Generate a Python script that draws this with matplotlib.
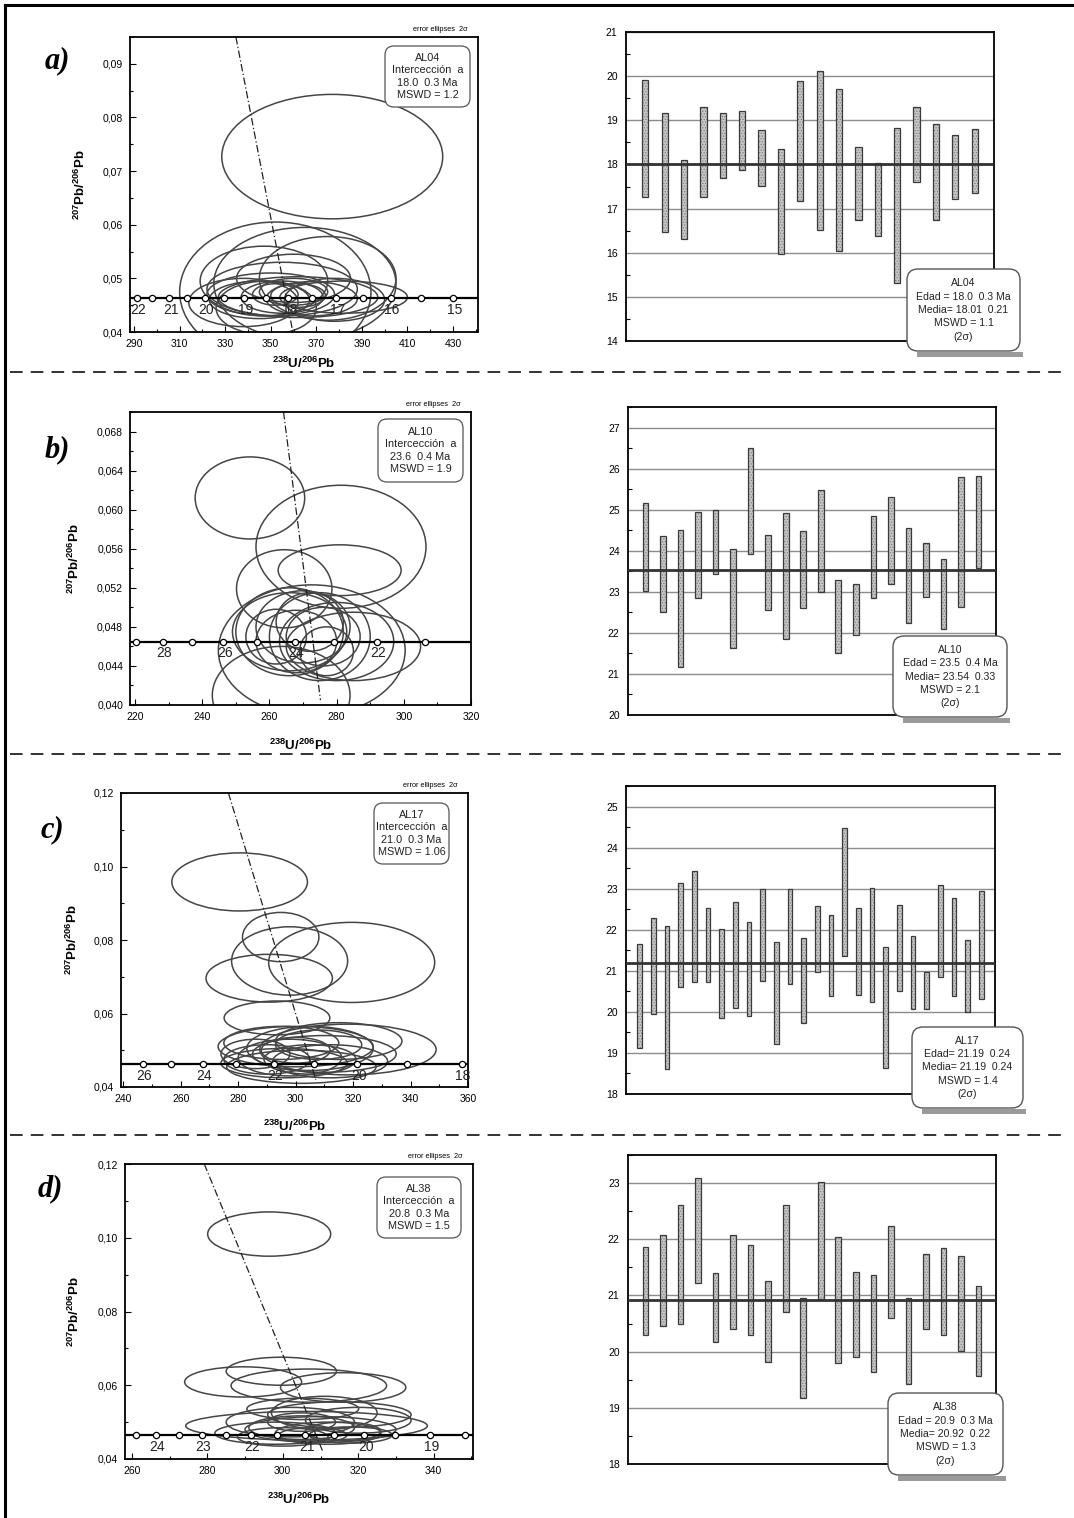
import matplotlib
matplotlib.use('Agg')
import matplotlib.pyplot as plt
from matplotlib.patches import Ellipse, FancyBboxPatch, Rectangle
from matplotlib.ticker import MultipleLocator, FuncFormatter

plt.rcParams['font.family'] = ['Liberation Sans', 'DejaVu Sans']
plt.rcParams['mathtext.fontset'] = 'custom'
plt.rcParams['mathtext.rm'] = 'Liberation Sans'
plt.rcParams['mathtext.bf'] = 'Liberation Sans:bold'
plt.rcParams['hatch.linewidth'] = 0.6

W, H = 1074, 1518

# ---------------- Tera-Wasserburg data (cx, cy, half-width, half-height) ----------------
ell_a = [(377, 0.0727, 48.5, 0.0116), (352, 0.0475, 42, 0.0130), (365, 0.0490, 40, 0.0105),
         (375, 0.0500, 30, 0.0078), (347, 0.0495, 28, 0.0065), (360, 0.0500, 25, 0.0045),
         (355, 0.0480, 33, 0.0050), (350, 0.0470, 28, 0.0040), (362, 0.0465, 35, 0.0038),
         (355, 0.0465, 18, 0.0030), (360, 0.0475, 15, 0.0025), (345, 0.0460, 22, 0.0035),
         (368, 0.0462, 20, 0.0032), (352, 0.0470, 10, 0.0020), (362, 0.0468, 12, 0.0022),
         (338, 0.0455, 24, 0.0045), (378, 0.0460, 22, 0.0040), (382, 0.0465, 28, 0.0030),
         (348, 0.0445, 22, 0.0050)]
ell_b = [(254.2, 0.0612, 16.3, 0.0042), (281.3, 0.0562, 25.3, 0.0063), (280.9, 0.0538, 18.3, 0.0026),
         (264.4, 0.0519, 14.2, 0.0040), (272.6, 0.0456, 27.8, 0.0067), (263.5, 0.0410, 20.5, 0.0050),
         (266, 0.0475, 17, 0.0040), (270, 0.0480, 14, 0.0037), (275, 0.0470, 15, 0.0045),
         (268, 0.0465, 12, 0.0032), (276, 0.0470, 11, 0.0030), (280, 0.0465, 17, 0.0040),
         (272, 0.0485, 10, 0.0030), (266, 0.0475, 16, 0.0045), (285, 0.0460, 20, 0.0035),
         (277, 0.0455, 8, 0.0025), (262, 0.0470, 9, 0.0028)]
ell_c = [(280.5, 0.0958, 23.6, 0.0079), (294.8, 0.0808, 13.3, 0.0067), (297.9, 0.0743, 20.2, 0.0093),
         (319.5, 0.0739, 28.9, 0.0109), (290.8, 0.0696, 22.0, 0.0065), (293.5, 0.0588, 18.4, 0.0046),
         (318.2, 0.0502, 30.7, 0.0069), (300, 0.0510, 27, 0.0055), (295, 0.0520, 20, 0.0045),
         (305, 0.0505, 22, 0.0060), (310, 0.0490, 25, 0.0050), (298, 0.0480, 18, 0.0050),
         (290, 0.0475, 15, 0.0040), (305, 0.0475, 16, 0.0040), (312, 0.0470, 20, 0.0045),
         (300, 0.0500, 12, 0.0035), (296, 0.0465, 22, 0.0040), (308, 0.0515, 15, 0.0040),
         (286, 0.0490, 12, 0.0040), (315, 0.0525, 22, 0.0050), (302, 0.0455, 26, 0.0045)]
ell_d = [(296.4, 0.1010, 16.3, 0.0060), (299.6, 0.0638, 14.6, 0.0038), (289.5, 0.0609, 15.5, 0.0041),
         (306.9, 0.0599, 20.6, 0.0045), (316.0, 0.0594, 16.6, 0.0040), (306.3, 0.0490, 32.0, 0.0039),
         (305.3, 0.0536, 14.8, 0.0029), (311, 0.0525, 14, 0.0045), (315, 0.0520, 19, 0.0035),
         (302, 0.0500, 17, 0.0040), (320, 0.0505, 14, 0.0035), (305, 0.0485, 14, 0.0032),
         (312, 0.0470, 14, 0.0030), (298, 0.0470, 16, 0.0030), (308, 0.0465, 9, 0.0020),
         (310, 0.0480, 20, 0.0035), (300, 0.0460, 12, 0.0025), (316, 0.0475, 10, 0.0025),
         (305, 0.0500, 9, 0.0025), (318, 0.0465, 11, 0.0022)]

# concordia ticks (x position, age in Ma) and the labelled ages
conc_a_x = [291.3, 297.9, 305.4, 313.2, 321.1, 329.5, 338.2, 347.9, 357.5, 368.1, 378.6, 390.4, 402.7, 415.9, 430.0]
conc_a_age = [22, 21.5, 21, 20.5, 20, 19.5, 19, 18.5, 18, 17.5, 17, 16.5, 16, 15.5, 15]
conc_a_lab = [22, 21, 20, 19, 18, 17, 16, 15]
conc_b_x = [220.2, 228.2, 237.1, 246.3, 256.4, 267.5, 279.2, 292.0, 306.3]
conc_b_age = [29, 28, 27, 26, 25, 24, 23, 22, 21]
conc_b_lab = [28, 26, 24, 22]
conc_c_x = [246.7, 256.6, 267.6, 279.3, 292.3, 306.3, 321.5, 338.7, 357.8]
conc_c_age = [26, 25, 24, 23, 22, 21, 20, 19, 18]
conc_c_lab = [26, 24, 22, 20, 18]
conc_d_x = [261.1, 266.4, 272.4, 278.6, 284.9, 291.6, 298.6, 306.0, 313.5, 321.6, 329.8, 339.0, 348.2]
conc_d_age = [24.5, 24, 23.5, 23, 22.5, 22, 21.5, 21, 20.5, 20, 19.5, 19, 18.5]
conc_d_lab = [24, 23, 22, 21, 20, 19]
conc_y = [0.0463, 0.0465, 0.0463, 0.0465]

# discordia (x, y) end points
disc_a = ([334.7, 359.7], [0.095, 0.040])
disc_b = ([264.2, 275.2], [0.070, 0.0405])
disc_c = ([276.6, 307.0], [0.120, 0.042])
disc_d = ([279.2, 310.7], [0.120, 0.0418])

# ---------------- weighted-mean age bars (top, bottom in Ma) ----------------
top_a = [19.91, 19.17, 18.11, 19.31, 19.16, 19.22, 18.77, 18.34, 19.88, 20.11, 19.70, 18.39, 18.04, 18.83, 19.29, 18.91, 18.66, 18.81]
bot_a = [17.27, 16.47, 16.31, 17.27, 17.70, 17.88, 17.52, 15.96, 17.18, 16.52, 16.03, 16.74, 16.38, 15.31, 17.61, 16.75, 17.21, 17.36]
top_b = [25.17, 24.36, 24.50, 24.94, 25.00, 24.04, 26.50, 24.39, 24.91, 24.48, 25.48, 23.28, 23.20, 24.85, 25.30, 24.56, 24.18, 23.81, 25.80, 25.82]
bot_b = [23.01, 22.50, 21.16, 22.85, 23.43, 21.64, 23.92, 22.56, 21.85, 22.60, 22.99, 21.51, 21.96, 22.84, 23.18, 22.23, 22.87, 22.09, 22.64, 23.59]
top_c = [21.65, 22.28, 22.09, 23.15, 23.44, 22.53, 22.03, 22.68, 22.20, 23.00, 21.69, 23.00, 21.80, 22.59, 22.36, 24.47, 22.52, 23.02, 21.59, 22.61, 21.84, 20.98, 23.09, 22.77, 21.76, 22.95]
bot_c = [19.11, 19.96, 18.62, 20.60, 20.73, 20.72, 19.85, 20.09, 19.90, 20.75, 19.22, 20.68, 19.73, 20.98, 20.38, 21.36, 20.40, 20.25, 18.63, 20.51, 20.08, 20.08, 20.85, 20.39, 20.00, 20.32]
top_d = [21.86, 22.07, 22.61, 23.09, 21.40, 22.08, 21.90, 21.26, 22.61, 20.96, 23.02, 22.04, 21.41, 21.36, 22.24, 20.96, 21.74, 21.85, 21.71, 21.17]
bot_d = [20.30, 20.46, 20.50, 21.22, 20.17, 20.41, 20.30, 19.82, 20.71, 19.18, 20.93, 19.79, 19.90, 19.64, 20.59, 19.43, 20.41, 20.30, 20.01, 19.57]
mean_age = [18.0, 23.54, 21.19, 20.92]

text_left = ["AL04\nIntercección  a\n18.0  0.3 Ma\nMSWD = 1.2",
             "AL10\nIntercección  a\n23.6  0.4 Ma\nMSWD = 1.9",
             "AL17\nIntercección  a\n21.0  0.3 Ma\nMSWD = 1.06",
             "AL38\nIntercección  a\n20.8  0.3 Ma\nMSWD = 1.5"]
text_right = ["AL04\nEdad = 18.0  0.3 Ma\nMedia= 18.01  0.21\nMSWD = 1.1\n(2σ)",
              "AL10\nEdad = 23.5  0.4 Ma\nMedia= 23.54  0.33\nMSWD = 2.1\n(2σ)",
              "AL17\nEdad= 21.19  0.24\nMedia= 21.19  0.24\nMSWD = 1.4\n(2σ)",
              "AL38\nEdad = 20.9  0.3 Ma\nMedia= 20.92  0.22\nMSWD = 1.3\n(2σ)"]
letters = ['a)', 'b)', 'c)', 'd)']

# ---------------- layout (pixels) ----------------
left_rect = [(130, 37, 478, 332), (130, 412, 471, 705), (121, 793, 468, 1087), (125, 1164, 473, 1459)]
right_rect = [(626, 32, 994, 341), (628, 407, 996, 715), (626, 786, 995, 1094), (628, 1155, 996, 1464)]
left_xlim = [(288.2, 441), (218.5, 320), (239.2, 360), (258.2, 350.4)]
left_ylim = [(0.04, 0.095), (0.040, 0.070), (0.04, 0.12), (0.04, 0.12)]
left_xt = [range(290, 431, 20), range(220, 321, 20), range(240, 361, 20), range(260, 341, 20)]
left_ymaj = [0.01, 0.004, 0.02, 0.02]
left_ydec = [2, 3, 2, 2]
right_ylim = [(14, 21), (20, 27.5), (18, 25.5), (18, 23.5)]
ylab_x = [-0.12, -0.14, -0.118, -0.124]
xlab_y = [-0.081, -0.113, -0.109, -0.112]
box_left = [(385, 46, 470, 107), (378, 419, 463, 482), (374, 803, 449, 864), (377, 1177, 461, 1238)]
box_right = [(907, 269, 1020, 351), (893, 636, 1007, 717), (912, 1027, 1023, 1108), (888, 1393, 1003, 1475)]
letter_pos = [(57, 61), (57, 450), (52, 830), (50, 1189)]
sep_y = [372, 754, 1135]

ells = [ell_a, ell_b, ell_c, ell_d]
concs = [(conc_a_x, conc_a_age, conc_a_lab), (conc_b_x, conc_b_age, conc_b_lab),
         (conc_c_x, conc_c_age, conc_c_lab), (conc_d_x, conc_d_age, conc_d_lab)]
discs = [disc_a, disc_b, disc_c, disc_d]
tops = [top_a, top_b, top_c, top_d]
bots = [bot_a, bot_b, bot_c, bot_d]

fig = plt.figure(figsize=(W / 100, H / 100), dpi=100)


def px_axes(r):
    l, t, rr, b = r
    return fig.add_axes([l / W, 1 - b / H, (rr - l) / W, (b - t) / H])


for i in range(4):
    # ---- left: Tera-Wasserburg diagram ----
    ax = px_axes(left_rect[i])
    x0, x1 = left_xlim[i]
    for cx, cy, hw, hh in ells[i]:
        ax.add_patch(Ellipse((cx, cy), 2 * hw, 2 * hh, fill=False, ec='#454545', lw=1.1))
    ax.plot(discs[i][0], discs[i][1], color='#222222', lw=0.9, dashes=(6, 2, 1, 2))
    cxs, cages, clab = concs[i]
    ax.plot([x0, x1], [conc_y[i]] * 2, color='black', lw=1.6)
    ax.plot(cxs, [conc_y[i]] * len(cxs), 'o', mfc='white', mec='black', ms=4.5, mew=0.9)
    for x, age in zip(cxs, cages):
        if age in clab:
            ax.annotate(str(int(age)), (x, conc_y[i]), xytext=(1, -8.5), textcoords='offset points',
                        ha='center', va='center', fontsize=10, color='#222222')
    ax.set_xticks(list(left_xt[i]))
    ax.set_xticks([v + 10 for v in left_xt[i] if v + 10 < x1], minor=True)
    ax.set_xlim(x0, x1)
    ax.set_ylim(left_ylim[i])
    ax.yaxis.set_major_locator(MultipleLocator(left_ymaj[i]))
    ax.yaxis.set_minor_locator(MultipleLocator(left_ymaj[i] / 2))
    dec = left_ydec[i]
    ax.yaxis.set_major_formatter(FuncFormatter(lambda v, p, d=dec: f'{v:.{d}f}'.replace('.', ',')))
    ax.tick_params(which='both', direction='in', labelsize=7.5, width=0.8, pad=5, top=False, right=False)
    ax.tick_params(which='major', length=4)
    ax.tick_params(which='minor', length=2.5)
    for s in ax.spines.values():
        s.set_linewidth(1.3)
    ax.set_ylabel(r'$^{\mathbf{207}}\mathbf{Pb/}^{\mathbf{206}}\mathbf{Pb}$', fontsize=9.5)
    ax.set_xlabel(r'$^{\mathbf{238}}\mathbf{U/}^{\mathbf{206}}\mathbf{Pb}$', fontsize=9.5)
    ax.yaxis.set_label_coords(ylab_x[i], 0.5)
    ax.xaxis.set_label_coords(0.5, xlab_y[i])
    ax.text(0.97, 1.012, 'error ellipses  2σ', transform=ax.transAxes, ha='right', va='bottom', fontsize=5.3)

    # ---- right: age bars ----
    axr = px_axes(right_rect[i])
    n = len(tops[i])
    xs = list(range(1, n + 1))
    hts = [t - b for t, b in zip(tops[i], bots[i])]
    axr.bar(xs, hts, bottom=bots[i], width=0.32, color='#c6c6c6', hatch='......', edgecolor='#808080',
            linewidth=0, zorder=3)
    axr.bar(xs, hts, bottom=bots[i], width=0.32, fill=False, edgecolor='#3a3a3a', linewidth=0.9, zorder=4)
    axr.axhline(mean_age[i], xmin=0, xmax=0.995, color='#333333', lw=2, zorder=5)
    axr.set_xlim(0, n + 1)
    lo, hi = right_ylim[i]
    axr.set_yticks(range(int(lo), int(hi) + 1))
    axr.set_ylim(lo, hi)
    axr.yaxis.set_minor_locator(MultipleLocator(0.5))
    axr.set_xticks([])
    axr.yaxis.grid(True, color='#8c8c8c', lw=1.0)
    axr.set_axisbelow(True)
    axr.tick_params(which='both', direction='in', labelsize=7.5, width=0.8, pad=6)
    axr.tick_params(which='major', length=0)
    axr.tick_params(which='minor', length=3)
    for s in axr.spines.values():
        s.set_linewidth(1.3)

# ---------------- overlay: frame, separators, boxes, letters ----------------
ov = fig.add_axes([0, 0, 1, 1], zorder=20)
ov.set_xlim(0, W)
ov.set_ylim(H, 0)
ov.axis('off')
ov.patch.set_alpha(0)

ov.plot([5, 5], [5, H], color='black', lw=2.2)
ov.plot([5, W], [5, 5], color='black', lw=2.2)
for y in sep_y:
    ov.plot([10, 1066], [y, y], color='#222222', lw=1.3, dashes=(7, 4.5))

for i in range(4):
    l, t, r, b = box_left[i]
    ov.add_patch(FancyBboxPatch((l, t), r - l, b - t, boxstyle='round,pad=0,rounding_size=9',
                                fc='white', ec='#555555', lw=0.9))
    ov.text((l + r) / 2, (t + b) / 2, text_left[i], ha='center', va='center', fontsize=7.8,
            linespacing=1.3, color='#222222')

    l, t, r, b = box_right[i]
    ov.add_patch(Rectangle((l + 10, b + 1), r - l - 7, 4.5, fc='#9a9a9a', ec='none'))
    ov.add_patch(FancyBboxPatch((l, t), r - l, b - t, boxstyle='round,pad=0,rounding_size=11',
                                fc='white', ec='#555555', lw=1.0))
    ov.text((l + r) / 2, (t + b) / 2, text_right[i], ha='center', va='center', fontsize=7.6,
            linespacing=1.42, color='#222222')

    lx, ly = letter_pos[i]
    ov.text(lx, ly, letters[i], ha='center', va='center', fontsize=22, style='italic',
            weight='bold', family='Liberation Serif')

fig.savefig('out.png', dpi=100)
